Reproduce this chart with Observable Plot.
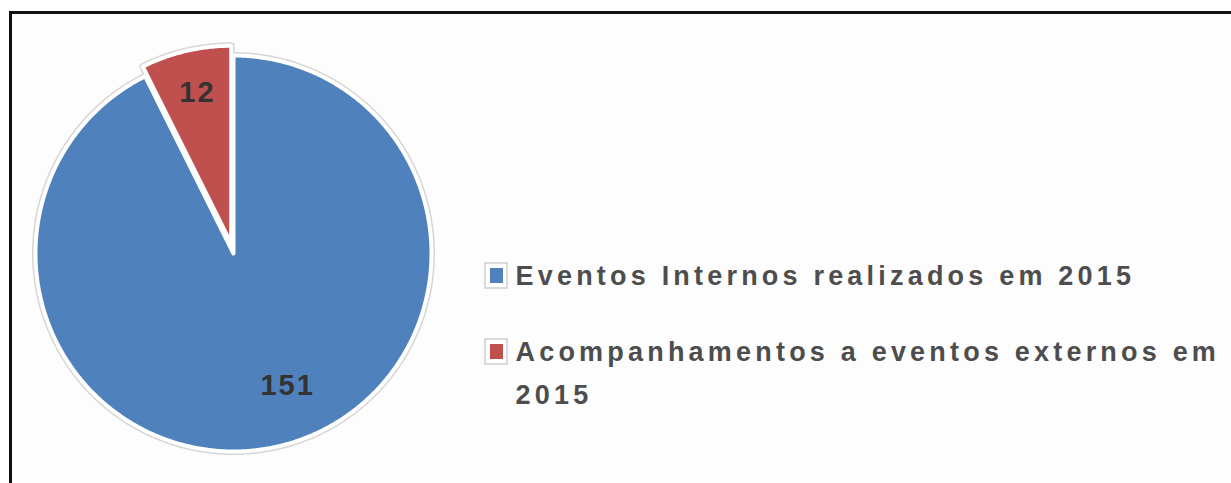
<!DOCTYPE html>
<html><head><meta charset="utf-8">
<script src="https://cdn.jsdelivr.net/npm/d3@7"></script>
<script src="https://cdn.jsdelivr.net/npm/@observablehq/plot@0.6"></script>
<style>
html,body{margin:0;padding:0;background:#fff;width:1231px;height:483px;overflow:hidden;}
#frame{position:absolute;left:9px;top:11px;width:1400px;height:600px;border-left:3px solid #111;border-top:3px solid #111;background:#fdfdfd;}
#chart{position:absolute;left:0;top:0;}
</style></head><body>
<div id="frame"></div><div id="chart"></div>
<script>
// ---- data ----
const categories = ["Eventos Internos realizados em 2015", "Acompanhamentos a eventos externos em 2015"];
const values = [151, 12];
const colors = ["#4F81BD", "#C0504D"];

// ---- layout ----
const W = 1231, H = 483;
const cx = 233, cy = 253, R = 198;
const explode = [0, 10];
const labelPlace = [{f: 0.717, shift: -0.16}, {f: 0.788, shift: 0.013}];
const legendX = 515, legendTop = 267, legendStep = 76;
const font = "'Liberation Sans', Arial, Helvetica, sans-serif";

const arcs = d3.pie().sort(null).value(d => d)(values);
const slicePts = [];
const labels = [];
arcs.forEach((a, i) => {
  const mid = (a.startAngle + a.endAngle) / 2;
  const ox = cx + explode[i] * Math.sin(mid);
  const oy = cy - explode[i] * Math.cos(mid);
  const cat = categories[i];
  slicePts.push({cat, x: ox, y: oy});
  const n = Math.max(2, Math.ceil((a.endAngle - a.startAngle) / (Math.PI / 360)));
  for (let k = 0; k <= n; k++) {
    const t = a.startAngle + (a.endAngle - a.startAngle) * k / n;
    slicePts.push({cat, x: ox + R * Math.sin(t), y: oy - R * Math.cos(t)});
  }
  const la = mid + labelPlace[i].shift;
  labels.push({text: String(values[i]), x: ox + R * labelPlace[i].f * Math.sin(la), y: oy - R * labelPlace[i].f * Math.cos(la) + 1});
});

const legendRows = categories.map((c, i) => ({cat: c, top: legendTop + i * legendStep}));

const plot = Plot.plot({
  width: W, height: H, margin: 0,
  x: {domain: [0, W], range: [0, W], axis: null},
  y: {domain: [0, H], range: [0, H], axis: null},
  color: {domain: categories, range: colors},
  style: {background: "transparent"},
  marks: [
    Plot.line(slicePts, {x: "x", y: "y", z: "cat", stroke: "#d6d6d6", strokeWidth: 7, fill: "none", curve: "linear-closed"}),
    Plot.line(slicePts, {x: "x", y: "y", z: "cat", fill: "cat", stroke: "white", strokeWidth: 4, curve: "linear-closed"}),
    Plot.text(labels, {x: "x", y: "y", text: "text", fontSize: 29, fontWeight: "bold", fill: "#333", fontFamily: font}),
    Plot.rect(legendRows, {x1: legendX - 30, x2: legendX - 8, y1: d => d.top - 4, y2: d => d.top + 21, fill: "white", stroke: "#b8b8b8", strokeWidth: 1}),
    Plot.rect(legendRows, {x1: legendX - 25, x2: legendX - 12, y1: d => d.top + 1, y2: d => d.top + 16, fill: "cat"}),
    Plot.text(legendRows, {x: legendX, y: d => d.top - 13.5, text: "cat", textAnchor: "start", lineAnchor: "top", lineWidth: 21.5, lineHeight: 1.6, fontSize: 27, fontWeight: "bold", fill: "#4d4d4d", fontFamily: font})
  ]
});
d3.select(plot).selectAll('g[font-size="27"] text, g[font-size="27"] tspan').style("letter-spacing", "4.2px");
d3.select(plot).selectAll('g[font-size="29"] text').style("letter-spacing", "2px");
document.getElementById("chart").appendChild(plot);
</script>
</body></html>
